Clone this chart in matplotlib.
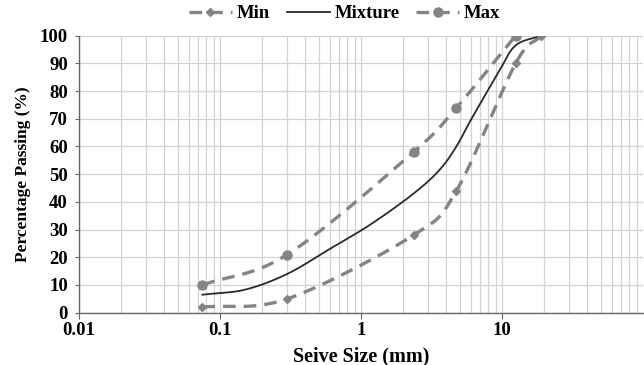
import numpy as np
import matplotlib
matplotlib.use("Agg")
import matplotlib.pyplot as plt
from matplotlib.ticker import FixedLocator, LogLocator, NullFormatter
from matplotlib.legend_handler import HandlerLine2D

# sieve sizes (mm) and percentage passing
min_sizes = [0.075, 0.3, 2.36, 4.75, 12.5, 19]
min_pass = [2, 5, 28, 44, 90, 100]

max_sizes = [0.075, 0.3, 2.36, 4.75, 12.5]
max_pass = [10, 21, 58, 74, 100]

mix_sizes = [0.075, 0.15, 0.3, 0.6, 1.18, 2.36, 3.6, 4.75, 6.0, 9.5, 12.5, 19]
mix_pass = [6.5, 8.3, 14, 23, 32, 43, 51.5, 60, 69.5, 87, 96.5, 100]

x_ticks = [0.01, 0.1, 1, 10]
x_labels = ["0.01", "0.1", "1", "10"]
y_ticks = list(range(0, 101, 10))

GREY = "#848484"
DARK = "#2a2a2a"
FONT = "Liberation Serif"


def smooth(xs, ys, n=30):
    # Catmull-Rom through the points in log-x space (like a "smoothed line" chart)
    lx = np.log10(xs)
    ys = np.asarray(ys, float)
    px = np.concatenate([[2 * lx[0] - lx[1]], lx, [2 * lx[-1] - lx[-2]]])
    py = np.concatenate([[2 * ys[0] - ys[1]], ys, [2 * ys[-1] - ys[-2]]])
    out_x, out_y = [], []
    t = np.linspace(0, 1, n)
    for i in range(1, len(px) - 2):
        for p, out in ((px, out_x), (py, out_y)):
            p0, p1, p2, p3 = p[i - 1], p[i], p[i + 1], p[i + 2]
            out.extend(0.5 * ((2 * p1) + (-p0 + p2) * t
                              + (2 * p0 - 5 * p1 + 4 * p2 - p3) * t ** 2
                              + (-p0 + 3 * p1 - 3 * p2 + p3) * t ** 3))
    return 10 ** np.array(out_x), np.clip(out_y, None, 100)


class LeftMarker(HandlerLine2D):
    # legend key with the marker at the left end, dashes to the right
    def get_xdata(self, legend, xdescent, ydescent, width, height, fontsize):
        return [-xdescent, -xdescent + width], [-xdescent + 0.1 * width]


fig = plt.figure(figsize=(6.44, 3.65), dpi=100)
ax = fig.add_axes([0.1227, 0.1433, 0.8757, 0.7589])

sx, sy = smooth(min_sizes, min_pass)
ax.plot(sx, sy, color=GREY, lw=2.4, dashes=(3.8, 2.4), zorder=3)
ax.plot(min_sizes, min_pass, ls="none", marker="D", ms=4, color=GREY, zorder=4)

sx, sy = smooth(mix_sizes, mix_pass)
ax.plot(sx, sy, color=DARK, lw=1.3, zorder=3)

sx, sy = smooth(max_sizes, max_pass)
ax.plot(sx, sy, color=GREY, lw=2.4, dashes=(3.8, 2.4), zorder=3)
ax.plot(max_sizes, max_pass, ls="none", marker="o", ms=6.5, color=GREY, zorder=4)

ax.set_xscale("log")
ax.set_xlim(0.01, 100)
ax.set_ylim(0, 100)
ax.xaxis.set_major_locator(FixedLocator(x_ticks))
ax.set_xticklabels(x_labels)
ax.xaxis.set_minor_locator(LogLocator(base=10, subs=np.arange(2, 10), numticks=20))
ax.xaxis.set_minor_formatter(NullFormatter())
ax.set_yticks(y_ticks)

ax.grid(True, which="both", axis="x", color="#d2d2d2", lw=0.9)
ax.grid(True, which="major", axis="y", color="#d2d2d2", lw=0.9)
ax.set_axisbelow(True)
for s in ["top", "right"]:
    ax.spines[s].set_visible(False)
for s in ["left", "bottom"]:
    ax.spines[s].set_color("#666666")
    ax.spines[s].set_linewidth(1.0)
ax.tick_params(axis="both", which="minor", length=0)
ax.tick_params(axis="x", which="major", length=4, color="#666666", pad=3)
ax.tick_params(axis="y", which="major", length=3, color="#666666", pad=5)

for lab in ax.get_xticklabels() + ax.get_yticklabels():
    lab.set_fontfamily(FONT)
    lab.set_fontweight("bold")
    lab.set_fontsize(13.5)

ax.set_xlabel("Seive Size (mm)", fontfamily=FONT, fontweight="bold", fontsize=14.5, labelpad=5)
ax.set_ylabel("Percentage Passing (%)", fontfamily=FONT, fontweight="bold", fontsize=12.5, labelpad=6)

h_min, = ax.plot([], [], color=GREY, lw=2.4, dashes=(3.8, 2.4), marker="D", ms=4)
h_mix, = ax.plot([], [], color=DARK, lw=1.3)
h_max, = ax.plot([], [], color=GREY, lw=2.4, dashes=(3.8, 2.4), marker="o", ms=6.5)
fig.legend([h_min, h_mix, h_max], ["Min", "Mixture", "Max"], loc="center",
           bbox_to_anchor=(0.535, 0.962), ncol=3, frameon=False, handlelength=2.3,
           handletextpad=0.25, columnspacing=0.9,
           handler_map={h_min: LeftMarker(), h_max: LeftMarker()},
           prop={"family": FONT, "weight": "bold", "size": 13.5})

fig.savefig("out.png", dpi=100)
